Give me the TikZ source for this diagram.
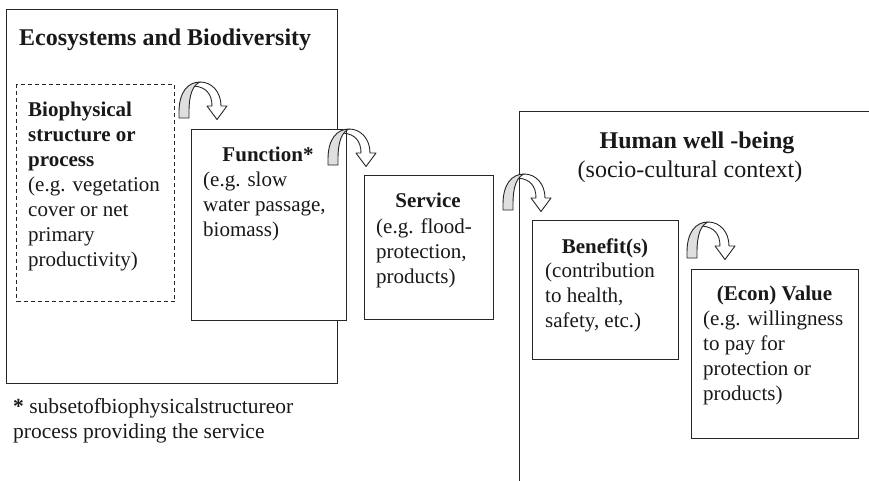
\documentclass[tikz,border=0pt]{standalone}
\usepackage{fontspec}
\setmainfont{Liberation Serif}
\newcommand\bodysize{\fontsize{21}{25}\selectfont}
\newcommand\headsize{\fontsize{24}{29}\selectfont}
\newcommand\notesize{\fontsize{21.5}{25}\selectfont}
\tikzset{
  frame/.style={draw=black!85, line width=1.1pt},
  box/.style={frame, fill=white, inner sep=0pt, anchor=north west},
  dashbox/.style={box, dash pattern=on 4pt off 3pt},
  txt/.style={inner sep=0pt, align=left, font=\bodysize, text=black!90},
  head/.style={txt, anchor=base, font=\bodysize\bfseries},
  % multi-line texts are placed by the baseline of their last line
  body/.style={txt, anchor=base west},
  arrowline/.style={draw=black!85, line width=0.9pt, line join=round},
  turnarrow/.pic={
    % hollow descending half with its arrowhead
    \draw[arrowline] (21,-36) .. controls (33,-36) and (42,-26) .. (42,-12)
      -- (48,-12) -- (38,1.5) -- (28,-12) -- (33,-12)
      .. controls (33,-24) and (27,-31) .. (15,-32);
    % shaded rising half
    \draw[arrowline, fill=gray!25] (0,0) -- (0,-6)
      .. controls (0,-26) and (9,-36) .. (21,-36)
      .. controls (14,-33) and (10,-24) .. (10,-6) -- (10,0) -- cycle;
  }
}
\begin{document}
\begin{tikzpicture}[x=1pt, y=-1pt]
\useasboundingbox (0,0) rectangle (869,480);
\clip (0,0) rectangle (869,480);

% boxes
\node[box, minimum width=331, minimum height=374] (eco) at (6,9) {};
\node[dashbox, fill=none, minimum width=158, minimum height=217] (bio) at (16,84) {};
\node[box, minimum width=155, minimum height=191] (func) at (191,129) {};
\node[box, minimum width=129, minimum height=144] (serv) at (364,175) {};
\node[box, minimum width=400, minimum height=390] (human) at (519,111) {};
\node[box, minimum width=146, minimum height=139] (ben) at (532,220) {};
\node[box, minimum width=167, minimum height=169] (val) at (691,269) {};

% curved step arrows
\pic at (179,118) {turnarrow};
\pic at (328,165) {turnarrow};
\pic at (503,210) {turnarrow};
\pic at (687,258) {turnarrow};

% texts
\node[body, font=\headsize\bfseries] (eco-title) at (19,45) {Ecosystems and Biodiversity};
\node[body] (bio-text) at (28,266) {\textbf{Biophysical}\\\textbf{structure or}\\\textbf{process}\\(e.g. vegetation\\cover or net\\primary\\productivity)};
\node[head] (func-head) at (268,161) {Function*};
\node[body] (func-text) at (203,236) {(e.g. slow\\water passage,\\biomass)};
\node[head] (serv-head) at (428,207) {Service};
\node[body] (serv-text) at (376,283) {(e.g. flood-\\protection,\\products)};
\node[txt, anchor=base, font=\headsize\bfseries] (human-title) at (697,148) {Human well -being};
\node[txt, anchor=base, font=\headsize] (human-sub) at (690,177) {(socio-cultural context)};
\node[head] (ben-head) at (605,253) {Benefit(s)};
\node[body] (ben-text) at (545,327) {(contribution\\to health,\\safety, etc.)};
\node[head] (val-head) at (774.5,300) {(Econ) Value};
\node[body] (val-text) at (703,400) {(e.g. willingness\\to pay for\\protection or\\products)};
\node[body, font=\notesize] (note) at (13,438) {\textbf{*} subsetofbiophysicalstructureor\\process providing the service};
\end{tikzpicture}
\end{document}
